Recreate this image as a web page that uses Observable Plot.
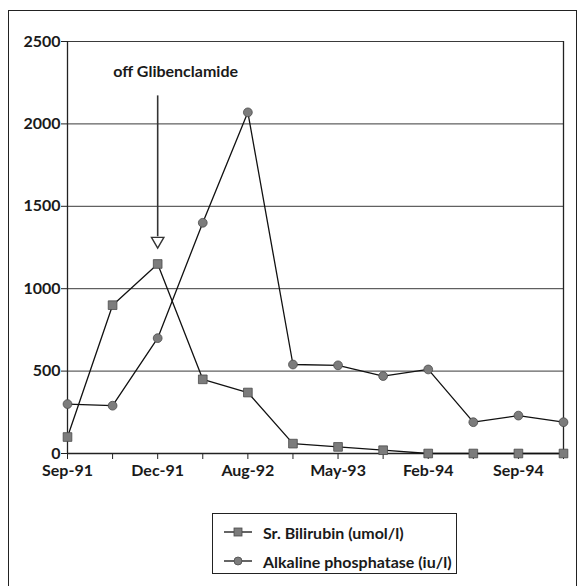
<!DOCTYPE html>
<html>
<head>
<meta charset="utf-8">
<script src="https://cdn.jsdelivr.net/npm/d3@7"></script>
<script src="https://cdn.jsdelivr.net/npm/@observablehq/plot@0.6"></script>
<style>
  html, body { margin: 0; padding: 0; background: #fff; }
  #wrap { position: relative; width: 584px; height: 586px; overflow: hidden; font-family: Lato, "DejaVu Sans", sans-serif; }
  #frame { position: absolute; left: 8px; top: 10px; width: 569px; height: 590px; border: 1.5px solid #222; box-sizing: border-box; }
  #chart { position: absolute; left: 0; top: 0; }
  #legend { position: absolute; left: 212px; top: 513px; width: 245px; height: 61px; border: 1.3px solid #222; box-sizing: border-box; background: #fff; }
  .row { position: absolute; left: 10px; height: 20px; display: flex; align-items: center; font-weight: 700; font-size: 16px; color: #1a1a1a; white-space: nowrap; }
  .row svg { margin-right: 10px; }
</style>
</head>
<body>
<div id="wrap">
  <div id="frame"></div>
  <div id="chart"></div>
  <div id="legend"></div>
</div>
<script>
// ---- data ----
const xLabels = ["Sep-91", "", "Dec-91", "", "Aug-92", "", "May-93", "", "Feb-94", "", "Sep-94", ""];
const bilirubin = [100, 900, 1150, 450, 370, 60, 40, 20, 0, 0, 0, 0];
const alkPhos = [300, 290, 700, 1400, 2070, 540, 535, 470, 510, 190, 230, 190];
const yTicks = [0, 500, 1000, 1500, 2000, 2500];
const seriesNames = ["Sr. Bilirubin (umol/l)", "Alkaline phosphatase (iu/l)"];
const annotationText = "off Glibenclamide";
const annotationX = 2;          // Dec-91
const annotationTextY = 2315;
const arrowTopY = 2170;
const arrowBaseY = 1315;
const arrowHeadY = 1290;

const rowsB = bilirubin.map((v, i) => ({i, v}));
const rowsA = alkPhos.map((v, i) => ({i, v}));

const markFill = "#7c7c7c";
const markStroke = "#4a4a4a";

const plot = Plot.plot({
  width: 584,
  height: 482,
  marginLeft: 67,
  marginRight: 21,
  marginTop: 41,
  marginBottom: 29,
  style: {fontFamily: "Lato, 'DejaVu Sans', sans-serif", fontSize: "16px", fontWeight: 700, color: "#1a1a1a", background: "transparent"},
  x: {domain: [0, xLabels.length - 1], axis: null},
  y: {domain: [0, 2500], axis: null},
  marks: [
    Plot.ruleY(yTicks.filter(d => d > 0), {stroke: "#3a3a3a", strokeWidth: 1}),
    Plot.ruleX([xLabels.length - 1], {y1: 0, y2: 2500, stroke: "#222", strokeWidth: 1.3}),
    Plot.axisY({ticks: yTicks, tickSize: 6, tickPadding: 1, tickFormat: d => String(d), stroke: "#222", fontWeight: 700, label: null}),
    Plot.axisX({ticks: d3.range(xLabels.length), tickSize: 6, tickPadding: 5, tickFormat: i => xLabels[i], stroke: "#222", fontWeight: 700, label: null}),
    Plot.ruleX([0], {y1: 0, y2: 2500, stroke: "#222", strokeWidth: 1.3}),
    Plot.ruleY([0], {stroke: "#222", strokeWidth: 1.3}),
    Plot.line(rowsA, {x: "i", y: "v", stroke: "#111", strokeWidth: 1.3}),
    Plot.line(rowsB, {x: "i", y: "v", stroke: "#111", strokeWidth: 1.3}),
    Plot.dot(rowsA, {x: "i", y: "v", symbol: "circle", r: 4.4, fill: markFill, stroke: markStroke, strokeWidth: 0.8}),
    Plot.dot(rowsB, {x: "i", y: "v", symbol: "square", r: 4.9, fill: markFill, stroke: markStroke, strokeWidth: 0.8}),
    // annotation
    Plot.text([annotationText], {x: annotationX, y: annotationTextY, dx: 18, text: d => d, fontWeight: 700, fontSize: 16, fill: "#1a1a1a"}),
    Plot.ruleX([annotationX], {y1: arrowTopY, y2: arrowBaseY, stroke: "#333", strokeWidth: 1.6}),
    Plot.dot([annotationX], {x: d => d, y: arrowHeadY, symbol: "triangle", rotate: 180, r: 4.6, fill: "white", stroke: "#333", strokeWidth: 1.4})
  ]
});
document.getElementById("chart").appendChild(plot);

// ---- legend ----
const legend = document.getElementById("legend");
const symbols = ["square", "circle"];
seriesNames.forEach((name, k) => {
  const row = document.createElement("div");
  row.className = "row";
  row.style.top = (k === 0 ? 8 : 37) + "px";
  const ns = "http://www.w3.org/2000/svg";
  const s = document.createElementNS(ns, "svg");
  s.setAttribute("width", 30); s.setAttribute("height", 12);
  const ln = document.createElementNS(ns, "line");
  ln.setAttribute("x1", 1); ln.setAttribute("x2", 29); ln.setAttribute("y1", 6); ln.setAttribute("y2", 6);
  ln.setAttribute("stroke", "#111"); ln.setAttribute("stroke-width", 1.3);
  s.appendChild(ln);
  let m;
  if (symbols[k] === "square") {
    m = document.createElementNS(ns, "rect");
    m.setAttribute("x", 11); m.setAttribute("y", 2); m.setAttribute("width", 8); m.setAttribute("height", 8);
  } else {
    m = document.createElementNS(ns, "circle");
    m.setAttribute("cx", 15); m.setAttribute("cy", 6); m.setAttribute("r", 4);
  }
  m.setAttribute("fill", markFill); m.setAttribute("stroke", markStroke); m.setAttribute("stroke-width", 0.8);
  s.appendChild(m);
  row.appendChild(s);
  const t = document.createElement("span");
  t.textContent = name;
  row.appendChild(t);
  legend.appendChild(row);
});
</script>
</body>
</html>
